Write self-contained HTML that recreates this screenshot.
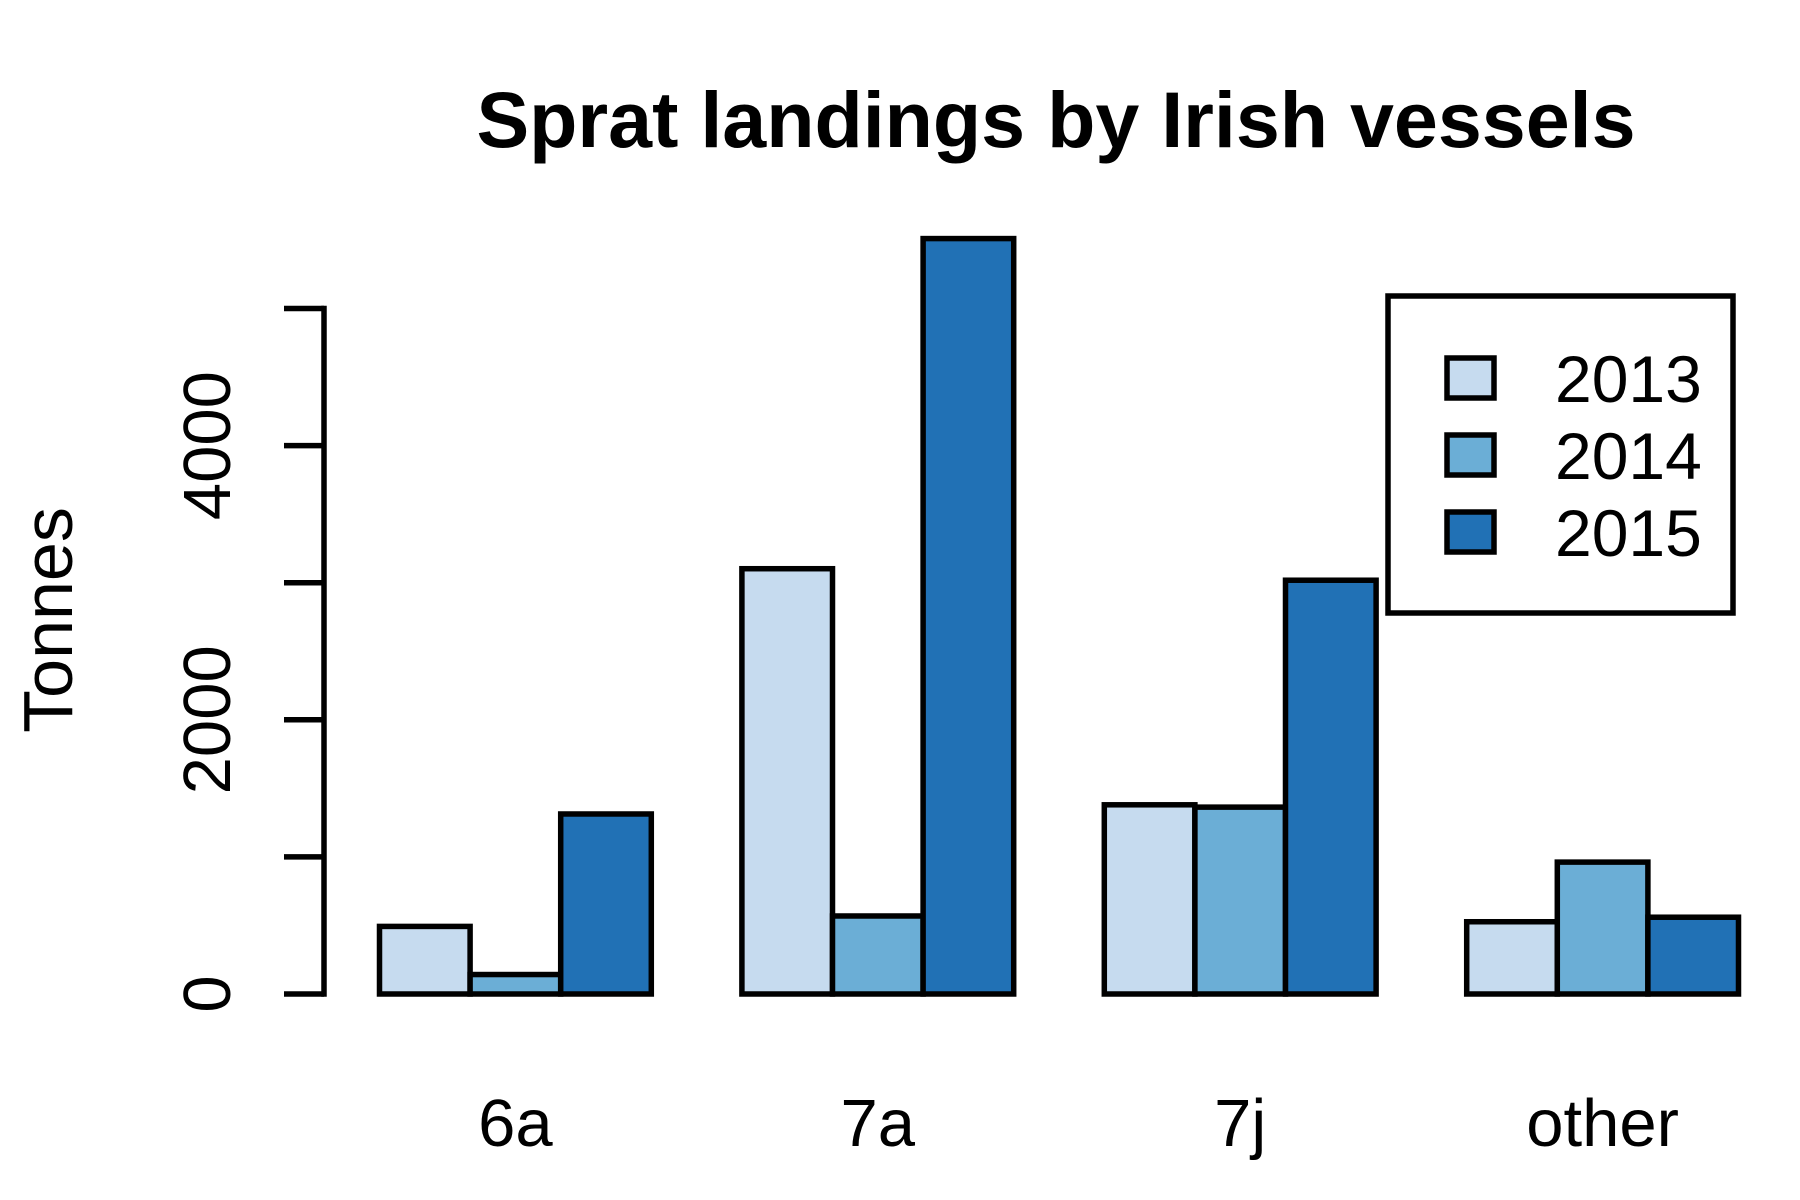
<!DOCTYPE html>
<html><head><meta charset="utf-8"><style>body{margin:0;background:#fff}svg{display:block}</style></head>
<body>
<svg id="chart" width="1800" height="1200" xmlns="http://www.w3.org/2000/svg" font-family="Liberation Sans, sans-serif">
<text x="1056" y="147" font-size="79" font-weight="bold" text-anchor="middle">Sprat landings by Irish vessels</text>
<text transform="translate(72,620) rotate(-90)" font-size="70" text-anchor="middle">Tonnes</text>
<g id="axis"></g>
<g id="bars"></g>
<g id="xlabels"></g>
<g>
<rect x="1388" y="296" width="345" height="317" fill="#fff" stroke="#000" stroke-width="5.5"/>
<g id="legend"></g>
</g>
</svg>
<script>
const categories = ["6a","7a","7j","other"];
const years = ["2013","2014","2015"];
const colors = ["#C6DBEF","#6BAED6","#2171B5"];
const v2013 = [493,3102,1380,527];
const v2014 = [142,569,1363,962];
const v2015 = [1313,5510,3018,560];
const yTicks = [0,1000,2000,3000,4000,5000];
const yTickLabels = ["0","","2000","","4000",""];
const series = [v2013,v2014,v2015];
const NS="http://www.w3.org/2000/svg";
const y0=994, perUnit=137.1/1000, axisX=324, barW=90.6, x0=379.5;
const SW=5.5;
const Y=v=>y0-v*perUnit;
const X=(g,s)=>x0+g*(4*barW)+s*barW;
function mk(tag,attrs,parent){const e=document.createElementNS(NS,tag);for(const k in attrs)e.setAttribute(k,attrs[k]);parent.appendChild(e);return e;}
const ax=document.getElementById('axis');
let l=mk('line',{x1:axisX,x2:axisX,y1:Y(yTicks[0])+SW/2,y2:Y(yTicks[yTicks.length-1])-SW/2,stroke:'#000','stroke-width':SW},ax);


yTicks.forEach((t,i)=>{
  const tk=mk('line',{x1:axisX-40,x2:axisX,y1:Y(t),y2:Y(t),stroke:'#000','stroke-width':SW},ax);
  
  
  if(yTickLabels[i]){
    const tx=mk('text',{transform:`translate(230,${Y(t)}) rotate(-90)`,'font-size':67,'text-anchor':'middle'},ax);
    tx.textContent=yTickLabels[i];
    
    
  }
});
const bg=document.getElementById('bars');
categories.forEach((c,g)=>{
  series.forEach((s,si)=>{
    const r=mk('rect',{x:X(g,si),y:Y(s[g]),width:barW,height:s[g]*perUnit,fill:colors[si],stroke:'#000','stroke-width':SW},bg);
    
    
  });
  const t=mk('text',{x:X(g,1.5),y:1146,'font-size':67,'text-anchor':'middle'},document.getElementById('xlabels'));
  t.textContent=c;
  
  
});
const lg=document.getElementById('legend');
years.forEach((yr,i)=>{
  const cy=378+i*77;
  const r=mk('rect',{x:1447,y:cy-20,width:47,height:40,fill:colors[i],stroke:'#000','stroke-width':SW},lg);
  
  
  const t=mk('text',{x:1555,y:cy+24,'font-size':66},lg);
  t.textContent=yr;
  
  
});
</script>
</body></html>
